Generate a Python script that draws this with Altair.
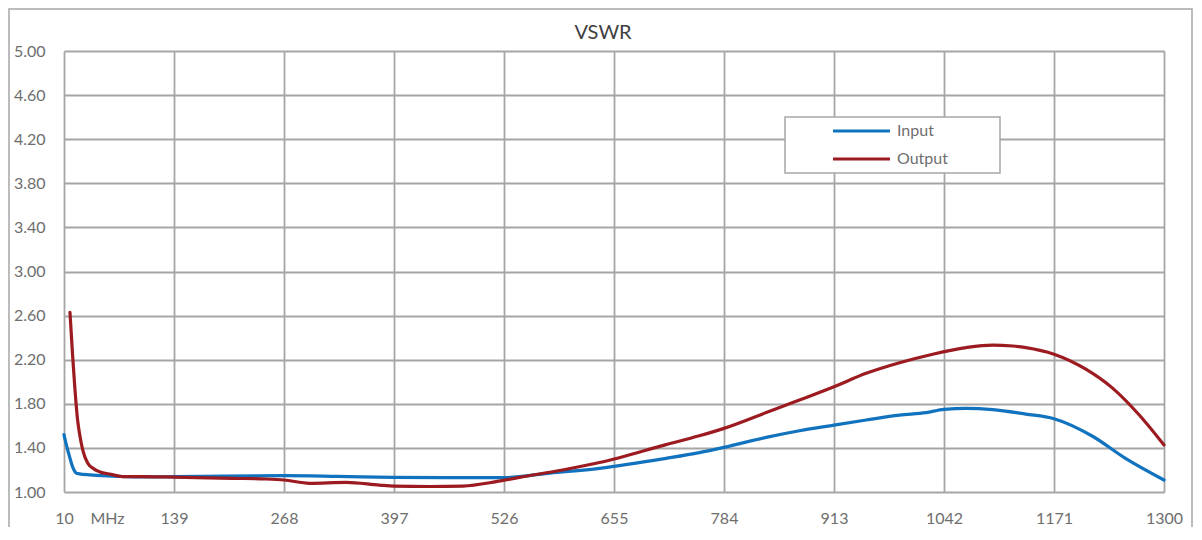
import altair as alt
import pandas as pd

# ---- data ----
series_names = ["Input", "Output"]
series_colors = ["#1172BE", "#9B1B20"]

freq_in = [10, 13, 16.5, 20, 24.7, 28, 40, 60, 80, 100, 139, 200, 268, 330, 397,
           460, 526, 580, 638, 716, 755, 784, 833.5, 872.5, 913, 950.7, 989.8,
           1021, 1042, 1068, 1099, 1138, 1171, 1215.7, 1254.8, 1300]
vswr_in = [1.52, 1.42, 1.32, 1.23, 1.17, 1.165, 1.155, 1.145, 1.14, 1.137, 1.139,
           1.145, 1.148, 1.142, 1.133, 1.13, 1.13, 1.172, 1.215, 1.305, 1.357,
           1.405, 1.496, 1.556, 1.607, 1.653, 1.698, 1.72, 1.75, 1.759, 1.748,
           1.707, 1.665, 1.508, 1.305, 1.109]

freq_out = [17, 20, 22.3, 26, 28.2, 32, 37.9, 45, 51.6, 65, 78.6, 100, 139, 208,
            247, 268, 298, 341, 380, 397, 438.6, 477.7, 516.8, 544, 594.6, 638,
            716, 755, 784, 833.5, 872.5, 913, 950.7, 989.8, 1028.8, 1068, 1099,
            1122.7, 1138, 1171, 1208.8, 1240, 1271, 1300]
vswr_out = [2.63, 2.25, 1.99, 1.65, 1.53, 1.38, 1.26, 1.21, 1.184, 1.16, 1.14,
            1.14, 1.135, 1.124, 1.118, 1.109, 1.079, 1.088, 1.063, 1.054, 1.05,
            1.054, 1.094, 1.133, 1.20, 1.267, 1.43, 1.51, 1.577, 1.72, 1.834,
            1.955, 2.076, 2.172, 2.25, 2.31, 2.333, 2.324, 2.31, 2.25, 2.112,
            1.94, 1.698, 1.426]

x_ticks = [10, 139, 268, 397, 526, 655, 784, 913, 1042, 1171, 1300]
y_ticks = [1.0, 1.4, 1.8, 2.2, 2.6, 3.0, 3.4, 3.8, 4.2, 4.6, 5.0]
title_text = "VSWR"
x_unit = "MHz"

# ---- build table ----
df = pd.concat([
    pd.DataFrame({"freq": freq_in, "vswr": vswr_in, "series": series_names[0]}),
    pd.DataFrame({"freq": freq_out, "vswr": vswr_out, "series": series_names[1]}),
], ignore_index=True)

FONT = "Lato"
GRID = "#a6a6a6"
LABEL = "#6e6e6e"
W, H = 1100, 441

x_scale = alt.Scale(domain=[10, 1300], nice=False, zero=False)
y_scale = alt.Scale(domain=[1, 5], nice=False, zero=False)

outer = alt.Chart(alt.Data(values=[{}])).mark_rect(
    filled=False, stroke=GRID, strokeWidth=1.5
).encode(
    x=alt.value(-55), x2=alt.value(1128), y=alt.value(-42), y2=alt.value(530)
)

legend_box = alt.Chart(alt.Data(values=[{}])).mark_rect(
    fill="white", stroke=GRID, strokeWidth=1.5
).encode(
    x=alt.value(721), x2=alt.value(936), y=alt.value(66), y2=alt.value(122)
)

lines = alt.Chart(df).mark_line(
    strokeWidth=3.2, strokeCap="round", strokeJoin="round", interpolate="monotone"
).encode(
    x=alt.X("freq:Q", scale=x_scale,
            axis=alt.Axis(values=x_ticks, labelExpr="format(datum.value, 'd')",
                          title=x_unit, titleX=43, titleY=31,
                          titleBaseline="alphabetic", titleAlign="center",
                          titleFont=FONT, titleFontSize=16, titleFontWeight="normal",
                          titleColor=LABEL,
                          labelBaseline="alphabetic", labelPadding=31,
                          ticks=False, tickSize=0, domain=False,
                          labelFlush=False, labelOverlap=False,
                          labelFont=FONT, labelFontSize=16, labelColor=LABEL,
                          grid=True, gridColor=GRID, gridWidth=1.8)),
    y=alt.Y("vswr:Q", scale=y_scale,
            axis=alt.Axis(values=y_ticks, format=".2f", title=None,
                          labelPadding=19, ticks=False, tickSize=0, domain=False,
                          labelFont=FONT, labelFontSize=16, labelColor=LABEL,
                          labelBaseline="middle",
                          grid=True, gridColor=GRID, gridWidth=1.8)),
    color=alt.Color("series:N",
                    scale=alt.Scale(domain=series_names, range=series_colors),
                    legend=alt.Legend(orient="none", legendX=721, legendY=66,
                                      title=None, padding=0, clipHeight=28,
                                      rowPadding=0, symbolType="stroke",
                                      symbolSize=3249, symbolStrokeWidth=3.2,
                                      symbolOffset=46, labelOffset=5,
                                      labelFont=FONT, labelFontSize=16,
                                      labelColor=LABEL)),
    order=alt.Order("freq:Q"),
)

chart = alt.layer(outer, legend_box, lines).properties(
    width=W, height=H,
    title=alt.TitleParams(title_text, font=FONT, fontSize=20, fontWeight="normal",
                          color="#404040", anchor="middle", dx=-11,
                          baseline="alphabetic", offset=-51),
    autosize=alt.AutoSizeParams(type="none"),
    padding={"left": 56, "top": 43, "right": 30, "bottom": 35},
).configure_view(
    stroke=GRID, strokeWidth=2
).configure(background="white")

chart.save("out.html", embed_options={"renderer": "svg", "actions": False})
